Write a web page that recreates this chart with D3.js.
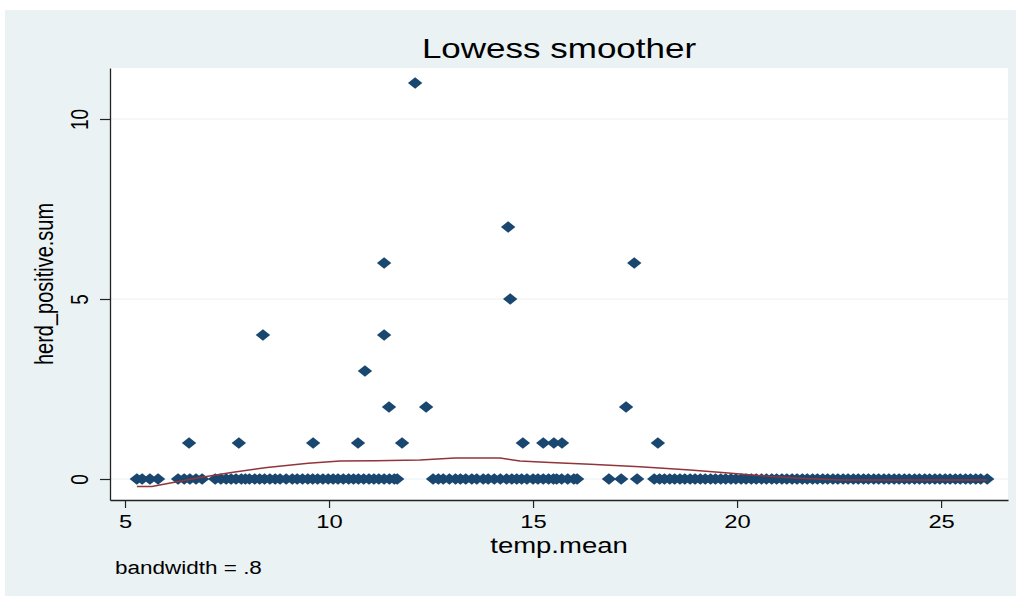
<!DOCTYPE html>
<html><head><meta charset="utf-8">
<script src="https://cdn.jsdelivr.net/npm/d3@7"></script>
<style>html,body{margin:0;padding:0;background:#fff;} svg{display:block;}</style>
</head><body><svg id="c" width="1022" height="596"></svg>
<script>
// ---- data ----
const posTemp  = [12.11, 14.39, 11.35, 17.48, 14.44, 8.38, 11.35, 10.88, 11.47, 12.38, 17.28,
                  6.57, 7.79, 9.61, 10.71, 11.79, 14.75, 15.25, 15.51, 15.71, 18.06];
const posCount = [11, 7, 6, 6, 5, 4, 4, 3, 2, 2, 2, 1, 1, 1, 1, 1, 1, 1, 1, 1, 1];
const zeroTemp = [5.29, 5.42, 5.61, 5.81,
  6.30, 6.45, 6.59, 6.74, 6.89,
  7.21, 7.35, 7.48, 7.60, 7.72, 7.85, 7.95, 8.05, 8.18, 8.30, 8.42, 8.55, 8.68, 8.80, 8.95,
  9.10, 9.22, 9.35, 9.48, 9.60, 9.72, 9.85, 9.98, 10.10, 10.22, 10.35, 10.48, 10.60, 10.72,
  10.85, 10.98, 11.10, 11.22, 11.35, 11.48, 11.60, 11.67,
  12.55, 12.68, 12.80, 12.95, 13.10, 13.22, 13.35, 13.50, 13.62, 13.78, 13.90, 14.05, 14.20,
  14.35, 14.48, 14.60, 14.72, 14.85, 15.00, 15.12, 15.25, 15.38, 15.50, 15.58, 15.70, 15.85, 16.00, 16.08,
  16.86, 17.16, 17.55,
  17.97, 18.10, 18.22, 18.35, 18.47, 18.60, 18.72, 18.85, 18.97, 19.10, 19.22, 19.35, 19.47,
  19.60, 19.72, 19.85, 19.97, 20.10, 20.22, 20.35, 20.47, 20.60, 20.72, 20.85, 20.97, 21.10,
  21.22, 21.35, 21.47, 21.60, 21.72, 21.85, 21.97, 22.10, 22.22, 22.35, 22.47, 22.60, 22.72,
  22.85, 22.97, 23.10, 23.22, 23.35, 23.47, 23.60, 23.72, 23.85, 23.97, 24.10, 24.22, 24.35,
  24.47, 24.60, 24.72, 24.85, 24.97, 25.10, 25.22, 25.35, 25.47, 25.60, 25.72, 25.85, 25.97, 26.13];
const lowessX = [5.29, 5.66, 5.98, 6.84, 7.65, 8.48, 9.49, 10.27, 11.13, 12.23, 13.09, 14.19,
                 14.68, 15.42, 16.40, 17.62, 18.85, 19.71, 20.93, 21.54, 22.52, 26.13];
const lowessY = [-0.21, -0.21, -0.14, 0.04, 0.19, 0.32, 0.44, 0.50, 0.51, 0.53, 0.58, 0.58,
                 0.50, 0.46, 0.41, 0.34, 0.25, 0.175, 0.06, 0.02, -0.03, -0.03];
const xTicks = [5, 10, 15, 20, 25];
const yTicks = [0, 5, 10];
const titleText = "Lowess smoother";
const xTitle = "temp.mean";
const yTitle = "herd_positive.sum";
const noteText = "bandwidth = .8";

// ---- layout ----
const plot = {l: 110, r: 1008, t: 68, b: 500};
const SX = 1.25; // horizontal text stretch
const FONT = "Liberation Sans, Arial, sans-serif";
const svg = d3.select("#c");
svg.append("rect").attr("x", 5).attr("y", 10).attr("width", 1011).attr("height", 586).attr("fill", "#eaf2f3");
svg.append("rect").attr("x", plot.l).attr("y", plot.t).attr("width", plot.r - plot.l).attr("height", plot.b - plot.t).attr("fill", "#ffffff");

const x = d3.scaleLinear().domain([4.632, 26.64]).range([plot.l, plot.r]);
const y = d3.scaleLinear().domain([-0.5833, 11.4167]).range([plot.b, plot.t]);

// grid
svg.append("g").selectAll("line").data(yTicks).join("line")
  .attr("x1", plot.l).attr("x2", plot.r)
  .attr("y1", d => y(d)).attr("y2", d => y(d))
  .attr("stroke", "#eaf2f3").attr("stroke-width", 1.2);

// points
const pts = posTemp.map((t, i) => ({t, c: posCount[i]})).concat(zeroTemp.map(t => ({t, c: 0})));
const diamond = { draw(ctx, size) { const h = 5.7, w = 7.2; ctx.moveTo(0, -h); ctx.lineTo(w, 0); ctx.lineTo(0, h); ctx.lineTo(-w, 0); ctx.closePath(); } };
svg.append("g").selectAll("path").data(pts).join("path")
  .attr("transform", d => `translate(${x(d.t)},${y(d.c)})`)
  .attr("d", d3.symbol().type(diamond).size(1))
  .attr("fill", "#1a476f");

// lowess
const line = d3.line().x((d, i) => x(lowessX[i])).y(d => y(d));
svg.append("path").datum(lowessY).attr("d", line)
  .attr("fill", "none").attr("stroke", "#90353b").attr("stroke-width", 1.5);

// axes
const xa = svg.append("g").attr("transform", `translate(0,${plot.b})`)
  .call(d3.axisBottom(x).tickValues(xTicks).tickSize(8).tickSizeOuter(0).tickPadding(6));
const ya = svg.append("g").attr("transform", `translate(${plot.l},0)`)
  .call(d3.axisLeft(y).tickValues(yTicks).tickSize(10).tickSizeOuter(0));
[xa, ya].forEach(a => {
  a.select(".domain").attr("stroke", "#222").attr("stroke-width", 1.3);
  a.selectAll(".tick line").attr("stroke", "#222").attr("stroke-width", 1.2);
  a.selectAll("text").attr("fill", "#000").style("font-family", FONT).style("font-size", "19px");
});
xa.selectAll(".tick text").attr("y", 0).attr("dy", 0).attr("transform", `translate(0,28) scale(${SX},1)`);
ya.selectAll(".tick text").attr("x", 0).attr("dy", 0).attr("text-anchor", "middle")
  .attr("transform", `translate(-22,0) scale(${SX},1) rotate(-90)`);

function txt(str, px, py, size, rot) {
  svg.append("text").text(str)
    .attr("transform", `translate(${px},${py}) scale(${SX},1)` + (rot ? " rotate(-90)" : ""))
    .attr("text-anchor", "middle").attr("fill", "#000")
    .style("font-family", FONT).style("font-size", size + "px");
}
txt(titleText, (plot.l + plot.r) / 2, 58, 28);
txt(xTitle, (plot.l + plot.r) / 2, 553, 22);
txt(yTitle, 53, (plot.t + plot.b) / 2, 20, true);
svg.append("text").text(noteText)
  .attr("transform", `translate(115,574) scale(${SX},1)`).attr("fill", "#000")
  .style("font-family", FONT).style("font-size", "18px");
</script></body></html>
